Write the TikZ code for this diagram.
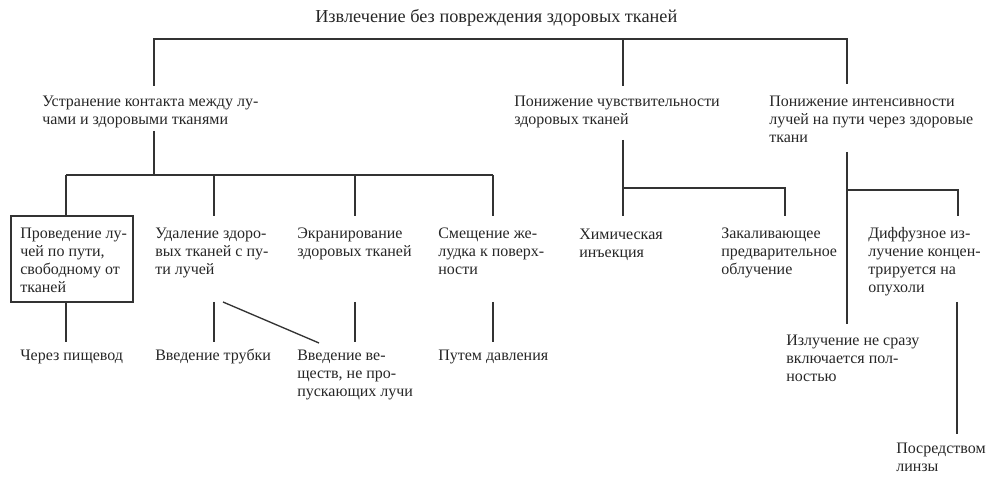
\documentclass[tikz,border=0pt]{standalone}
\usepackage{fontspec}
\setmainfont{Liberation Serif}
\begin{document}
\begin{tikzpicture}[x=0.75pt,y=-0.75pt,
  lbl/.style={anchor=base west,inner sep=0pt,align=left,font=\fontsize{12}{13.5}\selectfont,text=black!85},
  ln/.style={draw=black!80,line width=1pt},
  boxed/.style={draw=black!80,line width=1pt}]
\useasboundingbox (0,0) rectangle (1000,491);
% texts (anchor = baseline of last line)
\node[lbl,font=\fontsize{13.7}{15}\selectfont] (root) at (315,23) {Извлечение без повреждения здоровых тканей};
\node[lbl] (a) at (42,125) {Устранение контакта между лу-\\чами и здоровыми тканями};
\node[lbl] (b) at (514,125) {Понижение чувствительности\\здоровых тканей};
\node[lbl] (c) at (769,143) {Понижение интенсивности\\лучей на пути через здоровые\\ткани};
\node[lbl] (a1) at (20,293) {Проведение лу-\\чей по пути,\\свободному от\\тканей};
\node[lbl] (a2) at (155,275) {Удаление здоро-\\вых тканей с пу-\\ти лучей};
\node[lbl] (a3) at (297,257) {Экранирование\\здоровых тканей};
\node[lbl] (a4) at (438,275) {Смещение же-\\лудка к поверх-\\ности};
\node[lbl] (b1) at (579,258) {Химическая\\инъекция};
\node[lbl] (b2) at (721,275) {Закаливающее\\предварительное\\облучение};
\node[lbl] (c2) at (868,293) {Диффузное из-\\лучение концен-\\трируется на\\опухоли};
\node[lbl] (a11) at (20,361) {Через пищевод};
\node[lbl] (a21) at (155,361) {Введение трубки};
\node[lbl] (a31) at (297,397) {Введение ве-\\ществ, не про-\\пускающих лучи};
\node[lbl] (a41) at (438,361) {Путем давления};
\node[lbl] (c1) at (786,382) {Излучение не сразу\\включается пол-\\ностью};
\node[lbl] (c21) at (896,472) {Посредством\\линзы};
% box
\coordinate (bx1) at (11,216);
\coordinate (bx2) at (133,302);
\draw[boxed] (bx1) rectangle (bx2);
% top level
\coordinate (r1) at (154,39); \coordinate (r2) at (623,39); \coordinate (r3) at (847,39);
\coordinate (ra) at (154,86); \coordinate (rb) at (623,86); \coordinate (rc) at (847,84);
\draw[ln] (ra) -- (r1) -- (r3) -- (rc);
\draw[ln] (r2) -- (rb);
% level a
\coordinate (aT) at (154,131); \coordinate (aH) at (154,175);
\coordinate (h1) at (66,175); \coordinate (h4) at (493,175);
\draw[ln] (aT) -- (aH);
\draw[ln] (h1) -- (h4);
\foreach \x in {66,214,355,493} \draw[ln] (\x,175) -- (\x,216);
\foreach \x in {66,214,355,493} \draw[ln] (\x,302) -- (\x,342);
\coordinate (dg1) at (223,302); \coordinate (dg2) at (319,343);
\draw[ln] (dg1) -- (dg2);
% level b
\coordinate (bT) at (623,140); \coordinate (bB) at (623,216);
\coordinate (bH) at (785,188); \coordinate (bJ) at (623,188);
\draw[ln] (bT) -- (bB);
\draw[ln] (bJ) -- (bH) -- (785,216);
% level c
\coordinate (cT) at (847,152); \coordinate (cB) at (847,324);
\coordinate (cJ) at (847,190); \coordinate (cH) at (958,190);
\draw[ln] (cT) -- (cB);
\draw[ln] (cJ) -- (cH) -- (958,216);
\coordinate (dT) at (957,302); \coordinate (dB) at (957,434);
\draw[ln] (dT) -- (dB);
\end{tikzpicture}
\end{document}
